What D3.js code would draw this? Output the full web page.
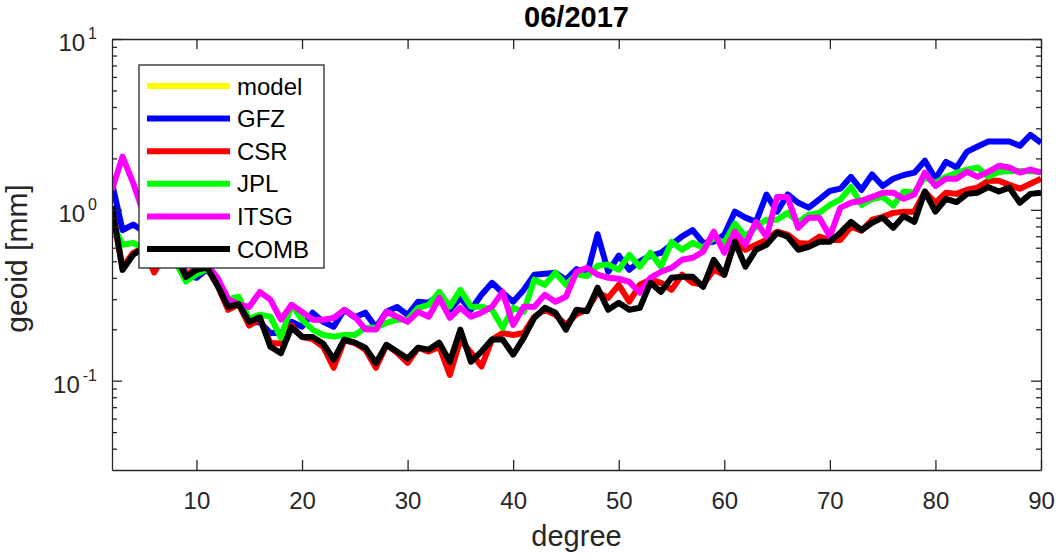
<!DOCTYPE html>
<html>
<head>
<meta charset="utf-8">
<script src="https://cdn.jsdelivr.net/npm/d3@7"></script>
<style>
body { margin: 0; background: #fff; }
text { font-family: "Liberation Sans", Arial, sans-serif; fill: #262626; }
</style>
</head>
<body>
<div id="chart"></div>
<script>
// spherical harmonic degrees on the x axis
const degrees = [2, 3, 4, 5, 6, 7, 8, 9, 10, 11,
  12, 13, 14, 15, 16, 17, 18, 19, 20, 21,
  22, 23, 24, 25, 26, 27, 28, 29, 30, 31,
  32, 33, 34, 35, 36, 37, 38, 39, 40, 41,
  42, 43, 44, 45, 46, 47, 48, 49, 50, 51,
  52, 53, 54, 55, 56, 57, 58, 59, 60, 61,
  62, 63, 64, 65, 66, 67, 68, 69, 70, 71,
  72, 73, 74, 75, 76, 77, 78, 79, 80, 81,
  82, 83, 84, 85, 86, 87, 88, 89, 90];

// geoid degree amplitudes [mm]
const modelVals = []; // not visible in the plot, only in the legend

const gfzVals = [1.44, 0.76, 0.82, 0.75, 0.7, 0.65, 0.6, 0.42, 0.40, 0.45,
  0.38, 0.3, 0.3, 0.22, 0.22, 0.19, 0.19, 0.221, 0.207, 0.25,
  0.221, 0.207, 0.26, 0.235, 0.25, 0.205, 0.253, 0.27, 0.243, 0.29,
  0.286, 0.318, 0.26, 0.305, 0.26, 0.318, 0.374, 0.327, 0.29, 0.34,
  0.417, 0.423, 0.428, 0.39, 0.45, 0.42, 0.72, 0.434, 0.54, 0.446,
  0.50, 0.54, 0.56, 0.625, 0.70, 0.76, 0.64, 0.65, 0.715, 0.975,
  0.90, 0.85, 1.23, 0.975, 1.23, 1.10, 1.03, 1.15, 1.29, 1.33,
  1.56, 1.31, 1.61, 1.38, 1.52, 1.6, 1.65, 1.94, 1.52, 1.91,
  1.77, 2.19, 2.35, 2.51, 2.51, 2.51, 2.37, 2.75, 2.47];

const csrVals = [1.0, 0.46, 0.56, 0.6, 0.43, 0.55, 0.5, 0.42, 0.45, 0.46,
  0.36, 0.26, 0.28, 0.21, 0.23, 0.166, 0.165, 0.21, 0.18, 0.175,
  0.158, 0.119, 0.172, 0.166, 0.152, 0.119, 0.162, 0.146, 0.127, 0.156,
  0.148, 0.158, 0.108, 0.174, 0.146, 0.121, 0.174, 0.19, 0.185, 0.19,
  0.237, 0.26, 0.243, 0.212, 0.245, 0.26, 0.33, 0.305, 0.364, 0.29,
  0.364, 0.39, 0.374, 0.34, 0.417, 0.374, 0.364, 0.446, 0.417, 0.667,
  0.584, 0.625, 0.667, 0.745, 0.715, 0.64, 0.633, 0.697, 0.667, 0.667,
  0.796, 0.755, 0.875, 0.91, 0.96, 0.975, 0.975, 1.28, 1.10, 1.26,
  1.24, 1.31, 1.35, 1.48, 1.48, 1.40, 1.33, 1.42, 1.52];

const jplVals = [0.85, 0.625, 0.64, 0.6, 0.55, 0.55, 0.5, 0.38, 0.42, 0.45,
  0.38, 0.3, 0.31, 0.23, 0.243, 0.237, 0.178, 0.278, 0.2275, 0.199,
  0.185, 0.181, 0.185, 0.185, 0.204, 0.204, 0.218, 0.2275, 0.2275, 0.267,
  0.278, 0.331, 0.271, 0.34, 0.271, 0.271, 0.26, 0.204, 0.267, 0.253,
  0.39, 0.364, 0.428, 0.364, 0.42, 0.41, 0.47, 0.478, 0.446, 0.545,
  0.465, 0.561, 0.465, 0.65, 0.584, 0.642, 0.60, 0.687, 0.642, 0.83,
  0.697, 0.796, 0.875, 0.875, 0.96, 0.85, 0.935, 0.96, 1.07, 1.15,
  1.36, 1.07, 1.16, 1.19, 1.06, 1.28, 1.26, 1.56, 1.44, 1.56,
  1.65, 1.72, 1.77, 1.56, 1.67, 1.68, 1.69, 1.68, 1.67];

const itsgVals = [1.31, 2.05, 1.44, 0.95, 0.8, 0.7, 0.65, 0.55, 0.5, 0.48,
  0.4, 0.3, 0.28, 0.27, 0.331, 0.298, 0.2275, 0.278, 0.253, 0.2275,
  0.2275, 0.233, 0.26, 0.237, 0.2, 0.199, 0.253, 0.237, 0.221, 0.253,
  0.237, 0.305, 0.233, 0.267, 0.237, 0.25, 0.271, 0.331, 0.212, 0.271,
  0.271, 0.318, 0.29, 0.31, 0.434, 0.458, 0.417, 0.40, 0.395, 0.379,
  0.327, 0.40, 0.434, 0.458, 0.51, 0.524, 0.569, 0.745, 0.561, 0.745,
  0.625, 0.851, 0.697, 1.19, 1.19, 0.785, 0.90, 0.90, 0.70, 1.03,
  1.10, 1.13, 1.19, 1.26, 1.26, 1.16, 1.23, 1.65, 1.38, 1.52,
  1.52, 1.67, 1.56, 1.67, 1.81, 1.77, 1.65, 1.72, 1.65];

const combVals = [1.05, 0.445, 0.545, 0.6, 0.55, 0.6, 0.55, 0.405, 0.446, 0.46,
  0.36, 0.271, 0.28, 0.221, 0.235, 0.158, 0.145, 0.205, 0.181, 0.18,
  0.165, 0.133, 0.174, 0.167, 0.156, 0.127, 0.162, 0.148, 0.135, 0.156,
  0.152, 0.167, 0.129, 0.199, 0.129, 0.148, 0.174, 0.174, 0.142, 0.178,
  0.233, 0.267, 0.25, 0.199, 0.26, 0.255, 0.35, 0.26, 0.286, 0.26,
  0.267, 0.374, 0.331, 0.40, 0.406, 0.406, 0.354, 0.51, 0.417, 0.65,
  0.465, 0.584, 0.625, 0.735, 0.697, 0.584, 0.608, 0.65, 0.65, 0.735,
  0.85, 0.76, 0.84, 0.90, 0.785, 0.92, 0.85, 1.28, 0.975, 1.16,
  1.11, 1.24, 1.26, 1.36, 1.28, 1.35, 1.10, 1.24, 1.26];

const seriesNames = ["model", "GFZ", "CSR", "JPL", "ITSG", "COMB"];
const seriesColors = ["#ffff00", "#0000ff", "#ff0000", "#00ff00", "#ff00ff", "#000000"];
const seriesVals = [modelVals, gfzVals, csrVals, jplVals, itsgVals, combVals];

const xTicks = [10, 20, 30, 40, 50, 60, 70, 80, 90];
const yMajor = [0.1, 1, 10];
const yMajorExp = ["-1", "0", "1"];
const yMinor = [0.04, 0.05, 0.06, 0.07, 0.08, 0.09,
  0.2, 0.3, 0.4, 0.5, 0.6, 0.7, 0.8, 0.9,
  2, 3, 4, 5, 6, 7, 8, 9];

const W = 1056, H = 556;
const plotLeft = 112, plotRight = 1041, plotTop = 39, plotBottom = 470;
const axisColor = "#262626";

const svg = d3.select("#chart").append("svg")
    .attr("width", W).attr("height", H);

const x = d3.scaleLinear().domain([2, 90]).range([plotLeft, plotRight]);
const y = d3.scaleLog().domain([0.03, 10]).range([plotBottom, plotTop]);

// clip for the data lines
svg.append("defs").append("clipPath").attr("id", "clip")
    .append("rect")
    .attr("x", plotLeft).attr("y", plotTop)
    .attr("width", plotRight - plotLeft).attr("height", plotBottom - plotTop);

// data lines
const line = d3.line()
    .x((d, i) => x(degrees[i]))
    .y(d => y(d));

svg.append("g").attr("clip-path", "url(#clip)")
    .selectAll("path")
    .data(seriesVals)
    .enter()
    .append("path")
    .attr("d", d => d.length ? line(d) : null)
    .attr("fill", "none")
    .attr("stroke", (d, i) => seriesColors[i])
    .attr("stroke-width", 6)
    .attr("stroke-linejoin", "round");

// axes (box with inward ticks)
function styleAxis(g) {
    g.attr("font-family", null).attr("font-size", null);
    g.selectAll("path.domain").attr("stroke", axisColor).attr("stroke-width", 1.3);
    g.selectAll(".tick line").attr("stroke", axisColor).attr("stroke-width", 1.3);
    g.selectAll("text").style("font-size", "24px").attr("fill", axisColor);
}

svg.append("g").attr("transform", "translate(0," + plotBottom + ")")
    .call(d3.axisBottom(x).tickValues(xTicks).tickSizeInner(-10).tickSizeOuter(0)
        .tickPadding(22).tickFormat(d3.format("d")))
    .call(styleAxis);

svg.append("g").attr("transform", "translate(0," + plotTop + ")")
    .call(d3.axisTop(x).tickValues(xTicks).tickSizeInner(-10).tickSizeOuter(0)
        .tickFormat(""))
    .call(styleAxis);

svg.append("g").attr("transform", "translate(" + plotLeft + ",0)")
    .call(d3.axisLeft(y).tickValues(yMajor).tickSizeInner(-10).tickSizeOuter(0)
        .tickFormat(""))
    .call(styleAxis);

svg.append("g").attr("transform", "translate(" + plotLeft + ",0)")
    .call(d3.axisLeft(y).tickValues(yMinor).tickSizeInner(-5).tickSizeOuter(0)
        .tickFormat(""))
    .call(styleAxis)
    .select("path.domain").remove();

svg.append("g").attr("transform", "translate(" + plotRight + ",0)")
    .call(d3.axisRight(y).tickValues(yMajor).tickSizeInner(-10).tickSizeOuter(0)
        .tickFormat(""))
    .call(styleAxis);

svg.append("g").attr("transform", "translate(" + plotRight + ",0)")
    .call(d3.axisRight(y).tickValues(yMinor).tickSizeInner(-5).tickSizeOuter(0)
        .tickFormat(""))
    .call(styleAxis)
    .select("path.domain").remove();

// log tick labels 10^n
const yLab = svg.append("g").selectAll("text")
    .data(yMajor)
    .enter()
    .append("text")
    .attr("x", plotLeft - 15)
    .attr("y", d => y(d) + 12)
    .attr("text-anchor", "end")
    .style("font-size", "24px");
yLab.append("tspan").text("10");
yLab.append("tspan")
    .attr("dy", -12)
    .attr("dx", 3)
    .style("font-size", "16px")
    .text((d, i) => yMajorExp[i]);

// title and axis labels
svg.append("text")
    .attr("x", (plotLeft + plotRight) / 2).attr("y", 27)
    .attr("text-anchor", "middle")
    .style("font-size", "29px").style("font-weight", "bold")
    .style("fill", "#000")
    .text("06/2017");

svg.append("text")
    .attr("x", (plotLeft + plotRight) / 2).attr("y", 546)
    .attr("text-anchor", "middle")
    .style("font-size", "29px")
    .text("degree");

svg.append("text")
    .attr("transform", "translate(27," + ((plotTop + plotBottom) / 2 + 4) + ") rotate(-90)")
    .attr("text-anchor", "middle")
    .style("font-size", "30px")
    .text("geoid [mm]");

// legend
const legend = svg.append("g");
legend.append("rect")
    .attr("x", 139).attr("y", 65)
    .attr("width", 185).attr("height", 203)
    .attr("fill", "#fff")
    .attr("stroke", axisColor).attr("stroke-width", 1.3);

const rows = legend.selectAll("g.row")
    .data(seriesNames)
    .enter()
    .append("g")
    .attr("class", "row")
    .attr("transform", (d, i) => "translate(0," + (86 + i * 32.6) + ")");
rows.append("line")
    .attr("x1", 147).attr("x2", 230)
    .attr("stroke", (d, i) => seriesColors[i])
    .attr("stroke-width", 6);
rows.append("text")
    .attr("x", 237).attr("y", 8.5)
    .style("font-size", "24px")
    .style("fill", "#000")
    .text(d => d);
</script>
</body>
</html>
